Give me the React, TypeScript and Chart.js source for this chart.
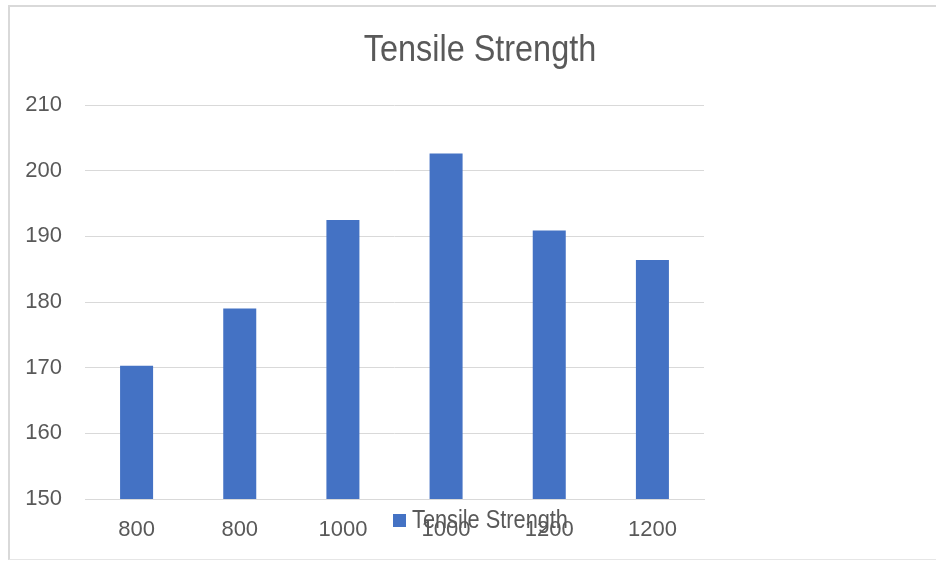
import React, { useEffect, useRef } from "react";
import { Chart, registerables } from "chart.js";

Chart.register(...registerables);

const categories = ["800", "800", "1000", "1000", "1200", "1200"];
const tensileValues = [170.3, 179.0, 192.5, 202.6, 190.9, 186.4];
const seriesName = "Tensile Strength";
const chartTitle = "Tensile Strength";
const yMin = 150;
const yMax = 210;
const yStep = 10;

const TEXT = "#595959";
const GRID = "#d9d9d9";
const BAR = "#4472C4";
const FONT = "'Liberation Sans', Arial, sans-serif";

const overlayPlugin = {
  id: "overlay",
  afterDraw(chart: any) {
    const ctx = chart.ctx;
    // title (slightly condensed like the original)
    ctx.save();
    ctx.fillStyle = TEXT;
    ctx.font = "36px " + FONT;
    ctx.textAlign = "center";
    ctx.textBaseline = "alphabetic";
    ctx.translate(480, 61);
    ctx.scale(0.9, 1);
    ctx.fillText(chartTitle, 0, 0);
    ctx.restore();
    // legend (overlapping x labels like the original)
    const ds = chart.data.datasets[0];
    ctx.save();
    ctx.fillStyle = ds.backgroundColor;
    ctx.fillRect(393, 514, 13, 13);
    ctx.fillStyle = TEXT;
    ctx.font = "25px " + FONT;
    ctx.textAlign = "left";
    ctx.textBaseline = "alphabetic";
    ctx.translate(412, 528);
    ctx.scale(0.87, 1);
    ctx.fillText(ds.label, 0, 0);
    ctx.restore();
  },
};

export default function App() {
  const ref = useRef<HTMLCanvasElement | null>(null);
  useEffect(() => {
    if (!ref.current) return;
    const chart = new Chart(ref.current, {
      type: "bar",
      data: {
        labels: categories,
        datasets: [
          {
            label: seriesName,
            data: tensileValues,
            backgroundColor: BAR,
            borderWidth: 0,
            barPercentage: 0.64,
            categoryPercentage: 0.5,
          },
        ],
      },
      options: {
        animation: false,
        responsive: false,
        maintainAspectRatio: false,
        devicePixelRatio: 1,
        layout: { padding: { left: 0, right: 232, top: 105, bottom: 0 } },
        plugins: {
          legend: { display: false },
          title: { display: false },
          tooltip: { enabled: false },
        },
        scales: {
          x: {
            afterFit: (s: any) => {
              s.height = 62;
            },
            grid: { display: false, drawTicks: false },
            border: { display: true, color: GRID, width: 1 },
            ticks: {
              color: TEXT,
              padding: 18,
              maxRotation: 0,
              font: { family: FONT, size: 22 },
            },
          },
          y: {
            min: yMin,
            max: yMax,
            afterFit: (s: any) => {
              s.width = 85;
            },
            grid: { color: GRID, lineWidth: 1, drawTicks: false },
            border: { display: false },
            ticks: {
              stepSize: yStep,
              color: TEXT,
              padding: 23,
              font: { family: FONT, size: 22 },
            },
          },
        },
      },
      plugins: [overlayPlugin],
    });
    return () => chart.destroy();
  }, []);

  return (
    <div style={{ position: "absolute", left: 0, top: 0, width: 936, height: 561, background: "#fff", overflow: "hidden" }}>
      <div
        style={{
          position: "absolute",
          left: 8,
          top: 5,
          width: 960,
          height: 552,
          borderTop: "2px solid #d9d9d9",
          borderLeft: "2px solid #d9d9d9",
          borderBottom: "1px solid #e6e6e6",
        }}
      />
      <canvas ref={ref} width={936} height={561} style={{ position: "absolute", left: 0, top: 0, width: 936, height: 561 }} />
    </div>
  );
}
